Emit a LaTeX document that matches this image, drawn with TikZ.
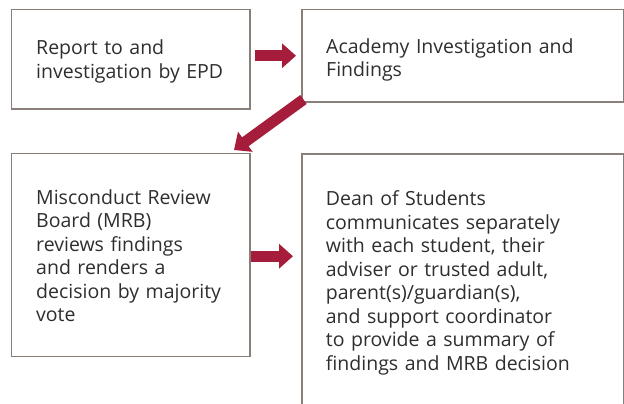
\documentclass[tikz,border=0pt]{standalone}
\usepackage{fontspec}
\setmainfont{Open Sans}
\usetikzlibrary{arrows.meta,calc}
\definecolor{boxline}{HTML}{8A7F78}
\definecolor{arrowred}{HTML}{A51D3B}
\definecolor{txt}{HTML}{2E2E2E}
\begin{document}
\begin{tikzpicture}[x=1pt,y=-1pt,
  box/.style={draw=boxline,line width=1.5pt,inner sep=0pt,anchor=north west},
  lbl/.style={anchor=base west,inner sep=0pt,text width=290pt,align=left,
    font=\fontsize{19.5}{23.5}\selectfont,text=txt},
  blockarrow/.style={draw=arrowred,line width=11pt,
    -{Triangle[length=14pt,width=24pt]}}]
\useasboundingbox (0,0) rectangle (624,404);
\clip (0,0) rectangle (624,404);
\node[box,minimum width=238.5pt,minimum height=99pt] (b1) at (10.5,9) {};
\node[box,minimum width=321.5pt,minimum height=92pt] (b2) at (301,9) {};
\node[box,minimum width=238.5pt,minimum height=203pt] (b3) at (10.5,152.5) {};
\node[box,minimum width=321.5pt,minimum height=277pt] (b4) at (301,153) {};
\node[lbl] (t1) at (36,55) {Report to and\\investigation by EPD};
\node[lbl] (t2) at (326,53.3) {Academy Investigation and\\Findings};
\node[lbl] (t3) at (36,204.3) {Misconduct Review\\Board (MRB)\\reviews findings\\and renders a\\decision by majority\\vote};
\node[lbl] (t4) at (325.7,205.5) {Dean of Students\\communicates separately\\with each student, their\\adviser or trusted adult,\\parent(s)/guardian(s),\\and support coordinator\\to provide a summary of\\findings and MRB decision};
\draw[blockarrow] ($(b1.east|-b2.west)+(4,0)$) -- ($(b2.west)+(-5,0)$);
\draw[blockarrow] ($(b2.south west)+(2.5,-3)$) -- ($(b3.north east)+(-16.5,-2.5)$);
\draw[blockarrow] ($(b3.east)+(0.75,1.5)$) -- ($(b4.west|-b3.east)+(-8,1.5)$);
\end{tikzpicture}
\end{document}
